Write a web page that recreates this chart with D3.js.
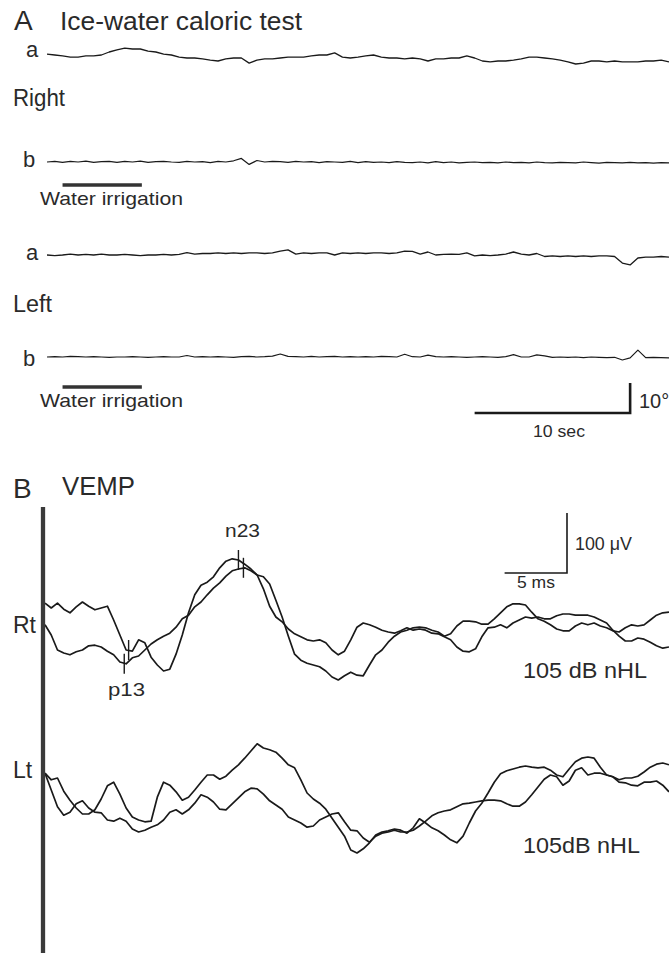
<!DOCTYPE html>
<html><head><meta charset="utf-8">
<script src="https://cdn.jsdelivr.net/npm/d3@7"></script>
<style>
html,body{margin:0;padding:0;background:#fff;}
svg{display:block;}
text{font-family:"Liberation Sans",Arial,Helvetica,sans-serif;fill:#2a2a2a;}
</style>
</head><body>
<svg id="chart" width="669" height="953"></svg>
<script>
// ---------- Panel A: ice-water caloric test (ENG traces, degrees, 0.5 s samples) ----------
const caloricDuration = 40; // s
const rightA = [1.3,1.0,0.7,0.3,0.3,0.7,0.7,1.0,2.0,2.7, 3.3,3.0,3.0,2.3,2.0,1.3,1.0,0.3,0,0,
  -0.3,-0.7,-1.0,-0.3,0,0,-1.7,-0.7,-0.3,-0.3, 0,0.3,0.3,0.3,0.7,1.0,1.0,1.7,0.3,0,
  0.3,0.7,1.0,0.3,0,0,-0.3,0,-0.3,-1.0, -0.3,-0.3,0,0,0.7,0,-1.0,-1.3,-1.0,-1.0,
  -0.7,-0.3,0.3,0.3,0,-0.3,-0.7,-1.3,-2.0,-1.7, -1.0,-1.0,-1.3,-1.0,-1.3,-1.3,-1.3,-1.0,-1.0,-0.7, -1.3];
const rightB = [0,0.2,-0.1,0.2,0,0.3,-0.1,0.1,0.2,-0.1, 0.2,0,0.3,-0.1,0.1,0.2,0,-0.1,0.2,0,
  0.1,-0.2,0.2,0,0.4,1.2,-0.8,0.5,0,0.2, 0.1,-0.1,0.2,0,0.1,-0.2,0.1,0,-0.1,0.2,
  -0.2,0.1,-0.1,0,-0.2,0.1,-0.1,-0.2,0,-0.3, 0.1,-0.2,0,-0.3,-0.1,0,-0.2,-0.1,-0.3,0,
  -0.2,-0.1,-0.3,0,-0.2,-0.3,-0.1,-0.2,-0.3,0, -0.2,-0.4,-0.1,-0.2,-0.3,-0.1,-0.3,-0.2,-0.4,-0.2, -0.3];
const leftA = [0,-0.2,0,0.3,0,0.2,0,0.3,0,0, 0.2,0,-0.2,0,0,0.2,0,0.2,0.8,0.3,
  0.5,0.5,0.7,0.5,0.7,0.5,0.7,0.7,0.5,0.7, 1.3,1.7,0.3,0.7,0.5,0.7,0.7,0,0.7,0.5,
  0.7,0.5,0.7,0.7,0.5,0.7,1.3,1.2,0.3,1.0, 0,0.2,0.3,0.2,0.7,-0.3,0,-0.2,0,0.3,
  1.0,0.3,0,0.5,-0.5,-0.3,-0.5,-0.3,-0.5,-0.3, -0.5,-0.3,-0.3,-0.5,-2.7,-3.3,-1.0,-0.7,-0.7,-0.5, -0.7];
const leftB = [0,0.1,0,0.2,0.1,0,0.1,0,-0.1,0, 0,0.1,0,-0.1,0,0.1,0,0,0.5,0,
  0.1,0,0.1,0,-0.1,0.1,0.2,0,0.1,0.3, 1.0,0.2,0.1,0,0.2,0,0.1,0.2,0,0.1,
  0,0.1,0,0.2,0.1,0,0.9,0.1,0,0.6, 0.1,0,0.1,0,-0.1,0,0.1,0,-0.1,0.1,
  0.8,0,0,0.7,0.4,-0.1,0,-0.1,0,-0.2, 0,-0.1,-0.2,-0.1,-1.0,-0.3,2.3,-0.2,-0.1,-0.2, -0.3];
const irrigation = [1, 6.1];      // s
const scaleBarA = {sec: 10, deg: 10};

// ---------- Panel B: VEMP (µV, 0.5 ms samples) ----------
const vempDuration = 50; // ms
const rt1 = [28,20,28,18,12,22,30,23,17,20, 23,0,-25,-50,-52,-33,-38,-62,-75,-85,
  -82,-57,-25,12,42,58,63,72,87,98, 102,100,93,85,75,52,23,5,-3,-15,
  -23,-28,-33,-35,-33,-38,-50,-58,-52,-33, -12,-5,-8,-12,-17,-20,-22,-18,-13,-17,
  -15,-17,-22,-23,-28,-33,-45,-52,-53,-48, -28,-13,-12,-8,-13,-5,0,5,3,5,
  2,2,7,10,10,8,8,8,5,0, -5,-17,-27,-35,-35,-30,-32,-37,-43,-47, -45];
const rt2 = [-8,-25,-50,-55,-58,-53,-50,-43,-42,-45, -52,-58,-70,-73,-63,-60,-50,-40,-33,-27,
  -22,-12,2,8,22,30,42,53,62,73, 82,85,87,82,75,72,60,33,5,-27,
  -57,-67,-72,-75,-78,-85,-95,-100,-93,-87, -92,-93,-75,-58,-50,-37,-27,-20,-17,-13,
  -12,-13,-17,-20,-27,-23,-10,-2,-2,-3, -7,-7,2,12,22,27,27,25,13,2,
  -2,-8,-15,-18,-18,-10,-5,-8,-5,-10, -13,-18,-20,-13,-8,-10,-8,0,8,12, 13];
const lt1 = [28,17,20,-2,-17,-30,-40,-40,-33,-15, 7,13,-7,-30,-45,-50,-53,-52,-12,13,
  8,-3,-17,-12,0,13,25,25,18,23, 33,42,53,65,77,70,67,63,53,42,
  37,17,-5,-15,-22,-32,-47,-62,-77,-100, -105,-98,-88,-75,-70,-68,-65,-67,-72,-63,
  -48,-55,-63,-68,-75,-83,-88,-77,-55,-35, -22,-5,13,27,32,35,38,40,38,37,
  38,33,25,22,35,47,53,55,53,38, 25,22,17,20,20,23,30,38,43,45, 42];
const lt2 = [28,0,-28,-42,-37,-23,-18,-30,-37,-38, -50,-52,-47,-52,-65,-70,-67,-62,-58,-50,
  -37,-33,-40,-33,-22,-8,-12,-20,-32,-33, -23,-13,-3,3,2,-7,-18,-25,-32,-45,
  -50,-55,-62,-60,-50,-45,-40,-38,-53,-67, -68,-80,-87,-77,-72,-70,-67,-70,-70,-67,
  -60,-52,-43,-38,-35,-33,-28,-23,-22,-20, -18,-17,-17,-18,-23,-27,-27,-20,-8,5,
  18,25,22,8,15,33,37,25,28,28, 25,22,13,12,8,7,13,13,15,8, -3];
const peakMarkers = [
  {label: "p13", trace: "rt2", t: 6.35},
  {label: "p13", trace: "rt1", t: 6.7},
  {label: "n23", trace: "rt1", t: 15.5},
  {label: "n23", trace: "rt2", t: 15.9}
];
const scaleBarB = {ms: 5, uv: 100};

// ---------- drawing ----------
const svg = d3.select("#chart");
const ink = "#1a1a1a";

// Panel A scales
const xA = d3.scaleLinear().domain([0, caloricDuration]).range([47, 669]);
const yDeg = base => d3.scaleLinear().domain([-10, 10]).range([base + 30, base - 30]);

function drawA(values, base, w) {
  const y = yDeg(base);
  const n = values.length;
  svg.append("path").datum(values)
    .attr("fill", "none").attr("stroke", ink).attr("stroke-width", w)
    .attr("stroke-linejoin", "round")
    .attr("d", d3.line().x((d, i) => xA(i * caloricDuration / (n - 1))).y(d => y(d)));
}
drawA(rightA, 58, 1.3);
drawA(rightB, 162, 1.2);
drawA(leftA, 255, 1.3);
drawA(leftB, 357, 1.2);

[185, 387].forEach(yy => {
  svg.append("line").attr("x1", xA(irrigation[0])).attr("x2", xA(irrigation[1]))
    .attr("y1", yy).attr("y2", yy).attr("stroke", "#333").attr("stroke-width", 3.5);
});

// scale bar A
const barEnd = 37.5;
const yBar = d3.scaleLinear().domain([0, scaleBarA.deg]).range([413, 383]);
svg.append("path")
  .attr("d", `M${xA(barEnd - scaleBarA.sec)},${yBar(0)}H${xA(barEnd)}V${yBar(scaleBarA.deg)}`)
  .attr("fill", "none").attr("stroke", ink).attr("stroke-width", 2.6);

// Panel B scales
const xB = d3.scaleLinear().domain([0, vempDuration]).range([45, 669]);
const yRt = d3.scaleLinear().domain([-100, 100]).range([680, 560]);
const yLt = d3.scaleLinear().domain([-100, 100]).range([850, 730]);
const traces = {rt1, rt2, lt1, lt2};

function drawB(values, y) {
  const n = values.length;
  svg.append("path").datum(values)
    .attr("fill", "none").attr("stroke", ink).attr("stroke-width", 1.7)
    .attr("stroke-linejoin", "round")
    .attr("d", d3.line().x((d, i) => xB(i * vempDuration / (n - 1))).y(d => y(d)));
}
drawB(rt1, yRt); drawB(rt2, yRt); drawB(lt1, yLt); drawB(lt2, yLt);

// stimulus / baseline thick line
svg.append("line").attr("x1", 43).attr("x2", 43).attr("y1", 507).attr("y2", 953)
  .attr("stroke", "#3a3a3a").attr("stroke-width", 4.3);

// peak markers
peakMarkers.forEach(m => {
  const vals = traces[m.trace];
  const idx = Math.round(m.t / (vempDuration / (vals.length - 1)));
  const cy = yRt(vals[idx]);
  svg.append("line").attr("x1", xB(m.t)).attr("x2", xB(m.t))
    .attr("y1", cy - 10).attr("y2", cy + 10)
    .attr("stroke", ink).attr("stroke-width", 1.4);
});

// scale bar B
const sbX = 567, sbY = 573;
svg.append("path")
  .attr("d", `M${sbX - (xB(scaleBarB.ms) - xB(0))},${sbY}H${sbX}V${sbY - (yRt(0) - yRt(scaleBarB.uv))}`)
  .attr("fill", "none").attr("stroke", ink).attr("stroke-width", 1.6);

// ---------- texts ----------
const labels = [
  {t: "A", x: 14, y: 30, fs: 28},
  {t: "Ice-water caloric test", x: 60, y: 30, fs: 25, len: 242},
  {t: "a", x: 26, y: 57, fs: 22},
  {t: "Right", x: 13, y: 106, fs: 23, len: 52},
  {t: "b", x: 23, y: 167, fs: 22},
  {t: "Water irrigation", x: 40, y: 205, fs: 19, len: 143},
  {t: "a", x: 26, y: 260, fs: 22},
  {t: "Left", x: 13, y: 312, fs: 23, len: 39},
  {t: "b", x: 23, y: 366, fs: 22},
  {t: "Water irrigation", x: 40, y: 407, fs: 19, len: 143},
  {t: "10°", x: 639, y: 408, fs: 20},
  {t: "10 sec", x: 533, y: 437, fs: 17, len: 52},
  {t: "B", x: 13, y: 498, fs: 28},
  {t: "VEMP", x: 62, y: 495, fs: 25, len: 73},
  {t: "n23", x: 225, y: 537, fs: 19, len: 35},
  {t: "100 μV", x: 575, y: 550, fs: 18, len: 57},
  {t: "5 ms", x: 517, y: 588, fs: 17, len: 38},
  {t: "Rt", x: 13, y: 633, fs: 23},
  {t: "p13", x: 108, y: 696, fs: 19, len: 37},
  {t: "105 dB nHL", x: 523, y: 678, fs: 22, len: 124},
  {t: "Lt", x: 13, y: 778, fs: 23},
  {t: "105dB nHL", x: 523, y: 853, fs: 22, len: 117}
];
labels.forEach(l => {
  const el = svg.append("text").attr("x", l.x).attr("y", l.y)
    .attr("font-size", l.fs).text(l.t);
  if (l.len) el.attr("textLength", l.len).attr("lengthAdjust", "spacingAndGlyphs");
});
</script>
</body></html>
